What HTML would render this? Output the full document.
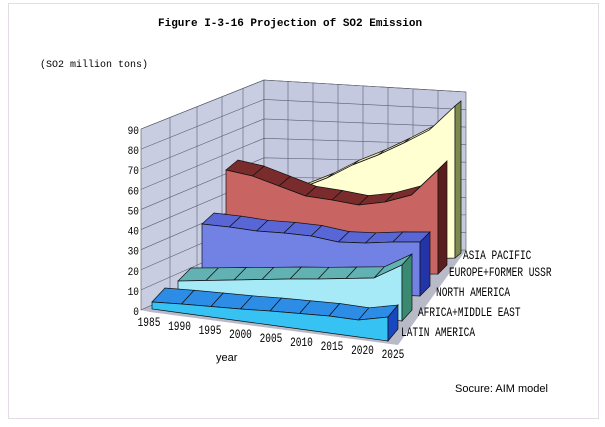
<!DOCTYPE html>
<html><head><meta charset="utf-8">
<style>
html,body{margin:0;padding:0;background:#fff;}
svg{display:block;}
.m{font-family:"Liberation Mono",monospace;font-size:10px;fill:#000;}
</style></head>
<body>
<svg id="s" width="605" height="427" viewBox="0 0 605 427" xmlns="http://www.w3.org/2000/svg">
<rect x="8.5" y="3.5" width="590" height="415" fill="#fff" stroke="#e4dce4" stroke-width="1"/>
<text x="158" y="26" font-family="Liberation Mono,monospace" font-size="11" font-weight="bold">Figure I-3-16  Projection of SO2 Emission</text>
<text x="40" y="67" class="m" font-size="11.5">(SO2 million tons)</text>
<polygon points="141,129 264,80 264,255 141,310" fill="#c9cde2" stroke="#555" stroke-width="0.6"/>
<polygon points="264,80 466,92 466,250 264,255" fill="#c4c9df" stroke="#555" stroke-width="0.6"/>
<polygon points="141,310 264,255 466,250 398,345 150,312" fill="#b8bac8"/>
<g id="grid" stroke="#5a6070" stroke-width="0.6" fill="none"></g>
<g id="rib"></g>
<g id="lab"></g>
<text x="216" y="361" font-family="Liberation Sans,sans-serif" font-size="11">year</text>
<text x="455" y="392" font-family="Liberation Sans,sans-serif" font-size="11">Socure: AIM model</text>
</svg>
<script>
var NS="http://www.w3.org/2000/svg";
function el(p,t,a,txt){var e=document.createElementNS(NS,t);for(var k in a)e.setAttribute(k,a[k]);if(txt!==undefined)e.textContent=txt;p.appendChild(e);return e;}
var grid=document.getElementById('grid'),rib=document.getElementById('rib'),lab=document.getElementById('lab');
for(var v=0;v<=90;v+=10){
  var yl=310-2.011*v, yb=255-1.944*v, yr=250-1.756*v;
  el(grid,'polyline',{points:"141,"+yl+" 264,"+yb+" 466,"+yr});
}
[170,197,222,243].forEach(function(x){var t=(x-141)/123;el(grid,'line',{x1:x,y1:129-49*t,x2:x,y2:310-55*t});});
[288,313,338,363,388,413,438].forEach(function(x){var t=(x-264)/202;el(grid,'line',{x1:x,y1:80+12*t,x2:x,y2:255-5*t});});
function sc(x,y,sx,sy){return 'translate('+x+','+y+') scale('+sx+','+sy+') translate('+(-x)+','+(-y)+')';}
for(var v=0;v<=90;v+=10){var y=315-2.011*v;el(lab,'text',{x:139,y:y,'text-anchor':'end','class':'m','font-size':'12',transform:sc(139,y,0.95,1.15)},String(v));}
var yrs=[1985,1990,1995,2000,2005,2010,2015,2020,2025];
for(var i=0;i<9;i++){var x=149+i*30.5,y=326+i*4;
  el(lab,'text',{x:x,y:y,'text-anchor':'middle','class':'m','font-size':'11.5',transform:sc(x,y,0.95,1.25)},String(yrs[i]));}
[["ASIA PACIFIC",463,259],["EUROPE+FORMER USSR",449,276],["NORTH AMERICA",436,296],["AFRICA+MIDDLE EAST",418,316],["LATIN AMERICA",401,336]].forEach(function(l){
  el(lab,'text',{x:l[1],y:l[2],'class':'m','font-size':'10.5',transform:sc(l[1],l[2],0.95,1.3)},l[0]);});
var Lx=[152,178,202,226,250],Ly=[309,298,287,276,265],Rx=[388,402,420,438,455],Ry=[341,321,296,274,258];
var tops=[
 [302,304,306.5,309,311,313.5,316,320,317],
 [281,280.5,280,279.5,279,279,278.5,278,265],
 [224,227,231,233,236,242,243,242,242],
 [170,176,186,196,200,205,202,195,170],
 [200,195,188,178,165,155,143,130,106]];
var dep=[[13,-14,10,-12],[13,-13,10,-11],[12,-11,10,-10],[12,-10,9,-9],[8,-5,6,-5]];
var cols=[
 {t:"#2c8ce6",f:"#36c2f2",r:"#1848c0"},
 {t:"#62b2b4",f:"#a6eaf8",r:"#3a8a72"},
 {t:"#5866d6",f:"#7282e4",r:"#2234a8"},
 {t:"#7a2c2c",f:"#c86462",r:"#5a1e1e"},
 {t:"#e8e4b0",f:"#ffffd2",r:"#7a8a50"}];
function P(a){return a.map(function(p){return p[0].toFixed(1)+","+p[1].toFixed(1);}).join(" ");}
for(var z=4;z>=0;z--){
  var T=[],B=[],D=[],dd=dep[z];
  for(var i=0;i<9;i++){var f=i/8;var bx=Lx[z]+(Rx[z]-Lx[z])*f,by=Ly[z]+(Ry[z]-Ly[z])*f;
    B.push([bx,by]);T.push([bx,tops[z][i]]);D.push([dd[0]+(dd[2]-dd[0])*f,dd[1]+(dd[3]-dd[1])*f]);}
  var c=cols[z];
  for(var i=0;i<8;i++){
    var a=T[i],b=T[i+1];
    el(rib,'polygon',{points:P([a,b,[b[0]+D[i+1][0],b[1]+D[i+1][1]],[a[0]+D[i][0],a[1]+D[i][1]]]),fill:c.t,stroke:"#111","stroke-width":"0.7"});
  }
  el(rib,'polygon',{points:P(T.concat(B.slice().reverse())),fill:c.f,stroke:"#111","stroke-width":"0.7"});
  var t8=T[8],b8=B[8],d=D[8];
  el(rib,'polygon',{points:P([t8,[t8[0]+d[0],t8[1]+d[1]],[b8[0]+d[0],b8[1]+d[1]],b8]),fill:c.r,stroke:"#111","stroke-width":"0.7"});
}
</script>
</body></html>
